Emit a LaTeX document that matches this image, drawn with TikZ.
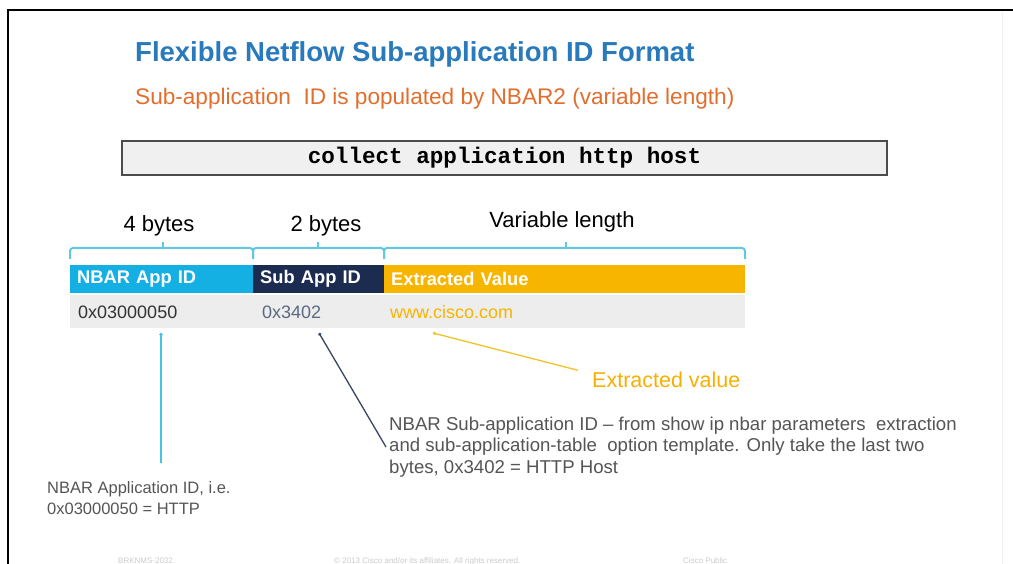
\documentclass[tikz,border=0pt]{standalone}
\usepackage{fontspec}
\setmainfont{Liberation Sans}
\setmonofont{Liberation Mono}
\usetikzlibrary{arrows.meta}
\definecolor{titleblue}{RGB}{40,122,188}
\definecolor{suborange}{RGB}{226,110,45}
\definecolor{bracecyan}{RGB}{96,200,224}
\definecolor{nbarcyan}{RGB}{20,176,228}
\definecolor{subnavy}{RGB}{28,43,80}
\definecolor{extgold}{RGB}{247,181,0}
\definecolor{rowgray}{RGB}{237,237,237}
\definecolor{textgray}{RGB}{85,85,85}
\definecolor{linenavy}{RGB}{55,70,100}
\definecolor{lineyellow}{RGB}{240,196,40}
\tikzset{
  px/.style={font=\fontsize{#1}{#1}\selectfont},
  lbl/.style={inner sep=0pt, anchor=base},
  hcell/.style={rectangle, anchor=north west, minimum height=28pt, inner ysep=0pt, inner xsep=7pt, text=white, font=\fontsize{18.3}{20}\selectfont\bfseries, align=left},
  vtext/.style={inner sep=0pt, anchor=west, font=\fontsize{18}{20}\selectfont},
  bracepath/.style={draw=bracecyan, line width=2pt, rounded corners=3pt},
  notetext/.style={inner sep=0pt, anchor=north west, align=left, text=textgray},
  foot/.style={inner sep=0pt, anchor=base west, text=gray!40, font=\fontsize{8}{9}\selectfont},
  tipline/.style={-{Circle[length=3pt]}},
}
\begin{document}
\begin{tikzpicture}[x=1pt,y=-1pt]
\useasboundingbox (0,0) rectangle (1013,564);
\fill[white] (0,0) rectangle (1013,564);
% frame
\draw[black, line width=2.2pt] (8,564) -- (8,10) -- (1013,10);
\draw[gray!12, line width=1pt] (1002,12) -- (1002,564);
% titles
\node[lbl, anchor=base west, text=titleblue, font=\fontsize{27.5}{30}\selectfont\bfseries] (title) at (135,62) {Flexible Netflow Sub-application ID Format};
\node[lbl, anchor=base west, text=suborange, px=22.6] (subtitle) at (135,105) {Sub-application\ \ ID is populated by NBAR2 (variable length)};
% command box
\node[draw=gray!60!black, fill=gray!12, line width=2pt, minimum width=765pt, minimum height=34pt, inner sep=0pt, font=\ttfamily\bfseries\fontsize{22.6}{24}\selectfont] (cmd) at (504.5,158) {collect application http host};
% length labels
\node[lbl, px=22] (l4) at (159,232) {4 bytes};
\node[lbl, px=22] (l2) at (326,232) {2 bytes};
\node[lbl, px=22] (lv) at (562,228) {Variable length};
% braces
\draw[bracepath] (70,259) -- (70,248) -- (253,248) -- (253,259);
\draw[bracepath] (253,259) -- (253,248) -- (384,248) -- (384,259);
\draw[bracepath] (384,259) -- (384,248) -- (745,248) -- (745,259);
\draw[draw=bracecyan, line width=2pt] (163,248) -- (163,242);
\draw[draw=bracecyan, line width=2pt] (318,248) -- (318,242);
\draw[draw=bracecyan, line width=2pt] (566,248) -- (566,242);
% header row
\node[hcell, fill=nbarcyan, minimum width=183pt, text width=169pt] (hA) at (70,265) {NBAR App ID};
\node[hcell, fill=subnavy, minimum width=131pt, text width=117pt] (hB) at (253,265) {Sub App ID};
\node[hcell, fill=extgold, minimum width=361pt, text width=347pt] (hC) at (384,265) {Extracted Value};
% value row
\node[rectangle, fill=rowgray, anchor=north west, minimum width=675pt, minimum height=33pt, inner sep=0pt] (row) at (70,295) {};
\node[vtext, text=black!80] (v1) at (78,312) {0x03000050};
\node[vtext, text={rgb,255:red,90;green,105;blue,130}] (v2) at (262,312) {0x3402};
\node[vtext, text=extgold] (v3) at (390,312) {www.cisco.com};
% notes
\node[lbl, anchor=base west, text=extgold!90!orange, px=21.5] (extv) at (592,387) {Extracted value};
\node[notetext, font=\fontsize{18.6}{21.3}\selectfont] (subnote) at (389,417) {NBAR Sub-application ID -- from show ip nbar parameters\ \ extraction\\and sub-application-table\ \ option template. Only take the last two\\bytes, 0x3402 = HTTP Host};
\node[notetext, font=\fontsize{16.5}{21}\selectfont] (appnote) at (47,481) {NBAR Application ID, i.e.\\0x03000050 = HTTP};
% connectors
\coordinate (c1top) at (161,333);
\coordinate (c1bot) at (161,463);
\draw[draw={rgb,255:red,70;green,196;blue,224}, line width=1.6pt, tipline] (c1bot) -- (c1top);
\coordinate (c2top) at (319,333);
\draw[linenavy, line width=1.3pt, tipline] (subnote.north west) ++(-3,30) -- (c2top);
\coordinate (c3top) at (433,333);
\draw[lineyellow, line width=1.3pt, tipline] (extv.west) ++(-14,-9) -- (c3top);
% footer
\node[foot] (f1) at (118,563) {BRKNMS-2032};
\node[foot] (f2) at (334,563) {\textcopyright\ 2013 Cisco and/or its affiliates. All rights reserved.};
\node[foot] (f3) at (683,563) {Cisco Public};
\end{tikzpicture}
\end{document}
